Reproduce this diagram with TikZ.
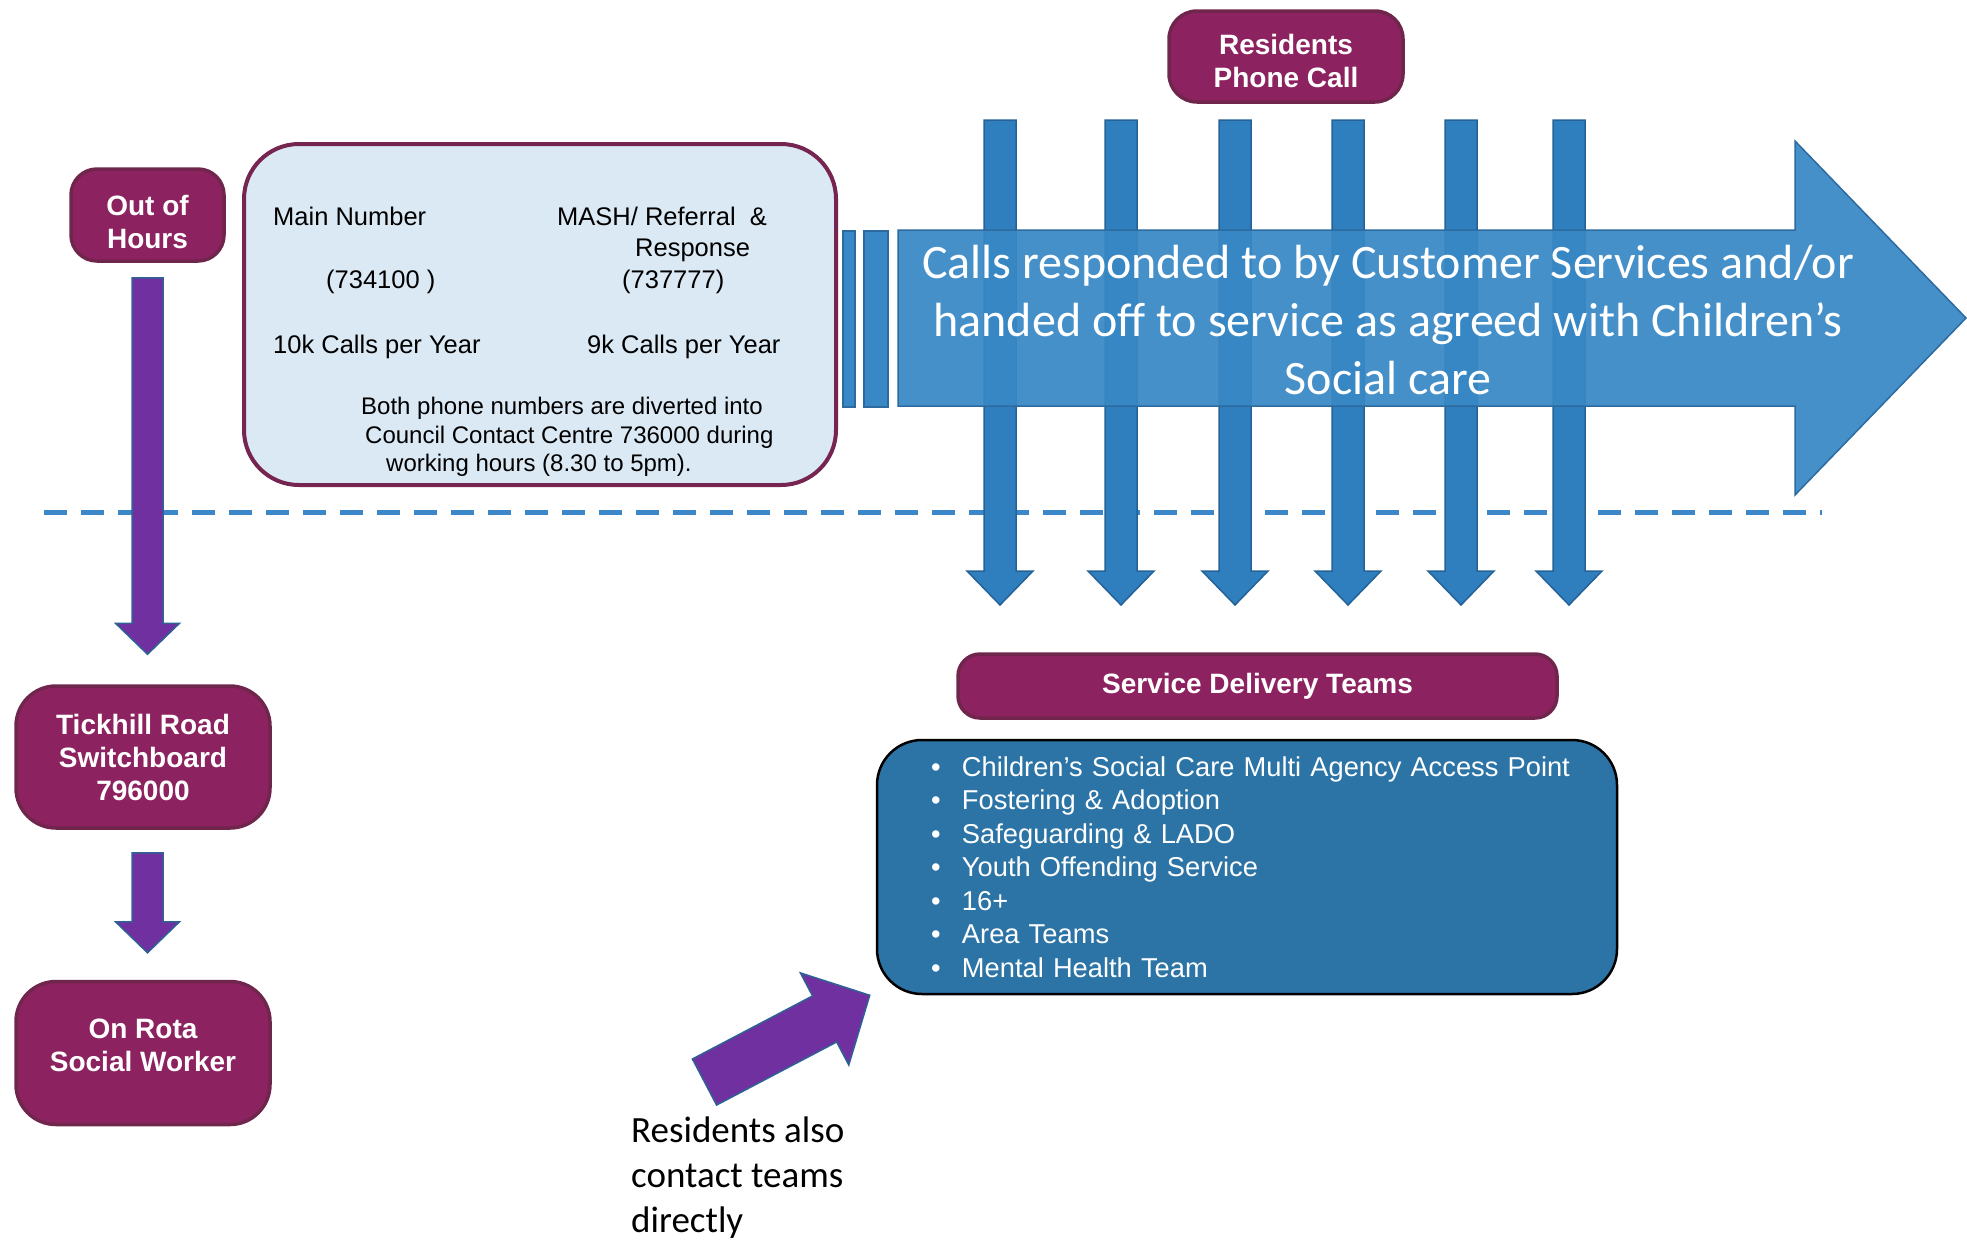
\documentclass[tikz,border=0pt]{standalone}
\usepackage{fontspec}
\setmainfont{Liberation Sans}
\newfontfamily\calibri{Carlito}
\usetikzlibrary{calc,positioning}
\definecolor{plum}{RGB}{140,35,96}
\definecolor{plumedge}{RGB}{112,38,76}
\definecolor{paleblue}{RGB}{219,233,244}
\definecolor{mashedge}{RGB}{118,37,80}
\definecolor{arrowblue}{RGB}{56,136,197}
\definecolor{arrowedge}{RGB}{44,106,160}
\definecolor{shaftblue}{RGB}{47,127,191}
\definecolor{shaftedge}{RGB}{36,98,152}
\definecolor{teamblue}{RGB}{44,116,166}
\definecolor{rotapurple}{RGB}{112,48,160}
\definecolor{purpleedge}{RGB}{46,98,150}
\definecolor{dashblue}{RGB}{59,135,200}
\tikzstyle{plumbox}=[rectangle, draw=plumedge, line width=3.5pt, fill=plum, rounded corners=26pt,
        text=white, align=center, font=\bfseries\fontsize{28}{33}\selectfont]
\tikzstyle{phonetext}=[inner sep=0pt, anchor=base west, font=\fontsize{25.5}{30}\selectfont]
\tikzstyle{fatblue}=[fill=shaftblue, draw=shaftedge, line width=1.5pt]
\tikzstyle{fatpurple}=[fill=rotapurple, draw=purpleedge, line width=1.5pt]
\tikzstyle{bigblue}=[fill=arrowblue, draw=arrowedge, line width=1.5pt]
\newcommand{\teamitem}{\makebox[40pt][l]{\hspace{9pt}\textbullet}}
\newcommand{\fatarrow}[6]{%
  \coordinate (fa-a) at (#2);
  \coordinate (fa-b) at (#3);
  \coordinate (fa-h) at ($(fa-b)!#6!(fa-a)$);
  \draw[#1] ($(fa-a)!#4!90:(fa-b)$) -- ($(fa-h)!#4!90:(fa-b)$) -- ($(fa-h)!#5!90:(fa-b)$) -- (fa-b)
    -- ($(fa-h)!#5!-90:(fa-b)$) -- ($(fa-h)!#4!-90:(fa-b)$) -- ($(fa-a)!#4!-90:(fa-b)$) -- cycle;
}

\begin{document}
\begin{tikzpicture}[x=1pt, y=-1pt]
    \useasboundingbox (0,0) rectangle (1967,1243);

    \draw[dashblue, line width=5pt, dash pattern=on 23pt off 14pt] (44,512) -- (1822,512);

    \node (phone) [plumbox, minimum width=234pt, minimum height=91pt, rounded corners=28pt] at (1286,56.5)
        {\mbox{}\\[-3pt]Residents\\Phone Call};
    \node (ooh) [plumbox, minimum width=153pt, minimum height=92pt] at (147.5,215) {\mbox{}\\[2pt]Out of\\Hours};
    \node (tick) [plumbox, minimum width=254pt, minimum height=142pt, rounded corners=40pt] at (143,757)
        {Tickhill Road\\Switchboard\\796000};
    \node (rota) [plumbox, minimum width=254pt, minimum height=143pt, rounded corners=40pt, below=150pt of tick]
        {On Rota\\Social Worker\\[-18pt]\mbox{}};
    \node (sdt) [plumbox, minimum width=599pt, minimum height=64pt, rounded corners=22pt] at (1257.5,686)
        {Service Delivery Teams};

    \node (teams) [draw=black, line width=2.5pt, fill=teamblue, rounded corners=45pt, minimum height=254pt,
        text width=650pt, inner xsep=45pt, align=left, text=white, font=\fontsize{27.3}{33.5}\selectfont,
        below=19pt of sdt, xshift=-10.5pt]
        {
            \teamitem Children’s Social Care Multi Agency Access Point\\
            \teamitem Fostering \& Adoption\\
            \teamitem Safeguarding \& LADO\\
            \teamitem Youth Offending Service\\
            \teamitem 16+\\
            \teamitem Area Teams\\
            \teamitem Mental Health Team
        };

    \node (mash) [draw=mashedge, line width=4pt, fill=paleblue, rounded corners=55pt,
        minimum width=592pt, minimum height=341pt] at (540,314.5) {};
    \node (mainlabel) [phonetext] at (273,225) {Main Number};
    \node (mashlabel) [phonetext] at (557,225) {MASH/ Referral~~\&};
    \node (mashlabel2) [phonetext] at (635,256) {Response};
    \node (mainnum) [phonetext] at (326,288) {(734100~)};
    \node (mashnum) [phonetext] at (622,288) {(737777)};
    \node (maincalls) [phonetext] at (273,353) {10k Calls per Year};
    \node (mashcalls) [phonetext] at (587,353) {9k Calls per Year};
    \node (diverted) [anchor=north west, inner sep=0pt, align=left, font=\fontsize{24}{28.5}\selectfont] at (361,397)
        {Both phone numbers are diverted into\\
         \hspace*{4pt}Council Contact Centre 736000 during\\
         \hspace*{25pt}working hours (8.30 to 5pm).};

    \foreach \x [count=\i] in {1000,1121,1235,1348,1461,1569} {
        \coordinate (call\i) at (\x,120);
        \coordinate (drop\i) at (\x,605);
        \fatarrow{fatblue}{call\i}{drop\i}{16pt}{33pt}{34pt}
    }

    \draw[bigblue] (843,231) rectangle (855,407);
    \draw[bigblue] (864,231) rectangle (888,407);
    \coordinate (flowstart) at (898,318);
    \coordinate (flowend) at (1966,318);
    \fatarrow{bigblue, fill opacity=0.93}{flowstart}{flowend}{88pt}{177pt}{171pt}
    \node (calls) [text=white, align=center, font=\calibri\fontsize{48}{58}\selectfont] at (1388,320)
        {Calls responded to by Customer Services and/or\\
         handed off to service as agreed with Children’s\\
         Social care};

    \coordinate (ooh-out) at ([yshift=-15pt]ooh.south);
    \coordinate (tick-in) at ([yshift=30pt]ooh-out |- tick.north);
    \coordinate (tick-out) at ([yshift=-23pt]ooh-out |- tick.south);
    \coordinate (rota-in) at ([yshift=27pt]ooh-out |- rota.north);
    \fatarrow{fatpurple}{ooh-out}{tick-in}{15.5pt}{32pt}{31pt}
    \fatarrow{fatpurple}{tick-out}{rota-in}{15.5pt}{32pt}{31pt}

    \coordinate (direct) at (704.5,1082);
    \coordinate (teams-in) at ([xshift=-6pt]teams.south west);
    \fatarrow{fatpurple}{direct}{teams-in}{26pt}{52pt}{51pt}
    \node (direct-note) [anchor=north west, inner sep=0pt, align=left, font=\calibri\fontsize{37}{45}\selectfont]
        at (631,1117) {Residents also\\contact teams\\directly};

\end{tikzpicture}
\end{document}
